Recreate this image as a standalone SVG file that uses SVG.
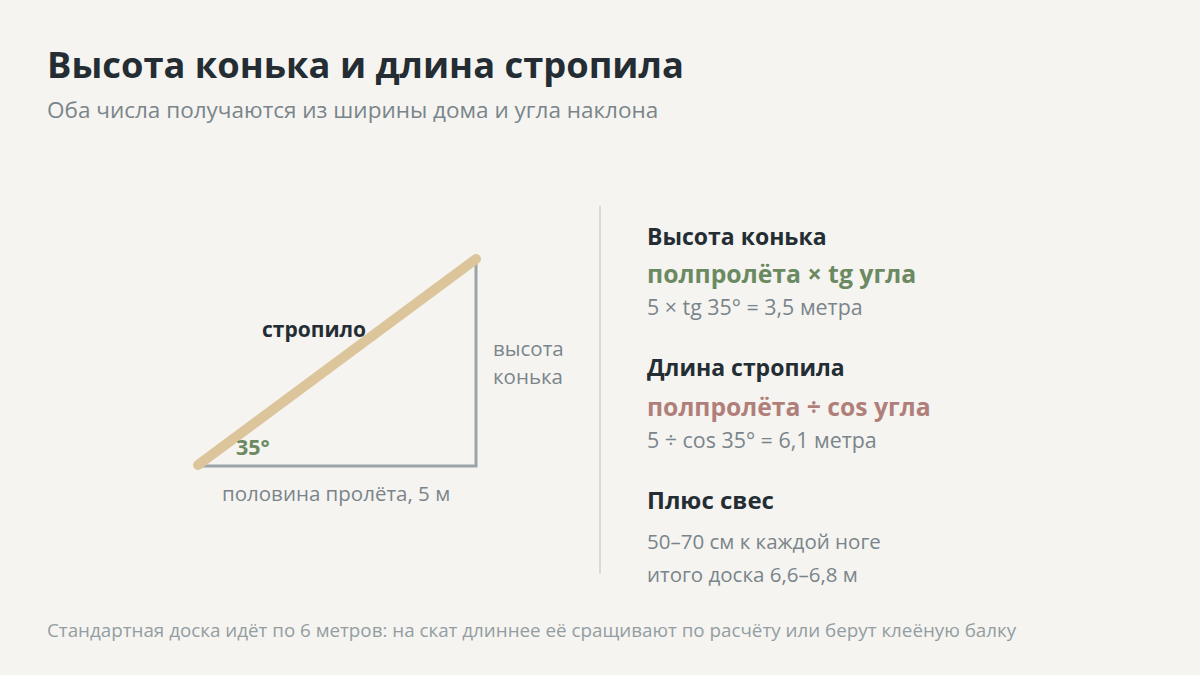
<svg xmlns="http://www.w3.org/2000/svg" width="1200" height="675" viewBox="0 0 1200 675">
<style>
text{font-family:"Open Sans","Noto Sans","DejaVu Sans",sans-serif}
.title{font-size:36.3px;font-weight:700;fill:#242d33}
.sub{font-size:22.5px;fill:#7a858b}
.lbl{font-size:20.5px;fill:#7a858b}
.val{font-size:21.4px;fill:#7a858b}
.h{font-size:23px;font-weight:700;fill:#242d33}
.fg{font-size:24.8px;font-weight:700;fill:#6b8a62}
.fr{font-size:24.7px;font-weight:700;fill:#b07f7a}
.note{font-size:18.8px;fill:#939da2}
</style>
<rect width="1200" height="675" fill="#f5f4f0"/>
<text class="title" x="47" y="78">Высота конька и длина стропила</text>
<text class="sub" x="47" y="118">Оба числа получаются из ширины дома и угла наклона</text>
<g id="triangle">
<polyline points="196,466 476,466 476,258" fill="none" stroke="#9ba4a9" stroke-width="3"/>
<line x1="198" y1="465" x2="476" y2="259" stroke="#dcc59b" stroke-width="10" stroke-linecap="round"/>
<text x="262" y="337" style="font-size:21px;font-weight:700;fill:#242d33">стропило</text>
<text x="236" y="455" style="font-size:21.5px;font-weight:700;fill:#6b8a62">35°</text>
<text class="lbl" x="493" y="356">высота</text>
<text class="lbl" x="493" y="384">конька</text>
<text class="lbl" x="222" y="501">половина пролёта, 5 м</text>
</g>
<line x1="600" y1="206" x2="600" y2="574" stroke="#dedbd6" stroke-width="2"/>
<g id="ridge">
<text class="h" x="647" y="245">Высота конька</text>
<text class="fg" x="647" y="283">полпролёта × tg угла</text>
<text class="val" x="647" y="315">5 × tg 35° = 3,5 метра</text>
</g>
<g id="rafter">
<text class="h" x="647" y="376">Длина стропила</text>
<text class="fr" x="647" y="416">полпролёта ÷ cos угла</text>
<text class="val" x="647" y="448">5 ÷ cos 35° = 6,1 метра</text>
</g>
<g id="overhang">
<text class="h" x="647" y="509" style="font-size:24px">Плюс свес</text>
<text class="lbl" x="647" y="549">50–70 см к каждой ноге</text>
<text class="lbl" x="647" y="582">итого доска 6,6–6,8 м</text>
</g>
<text class="note" x="47" y="637">Стандартная доска идёт по 6 метров: на скат длиннее её сращивают по расчёту или берут клеёную балку</text>
</svg>
